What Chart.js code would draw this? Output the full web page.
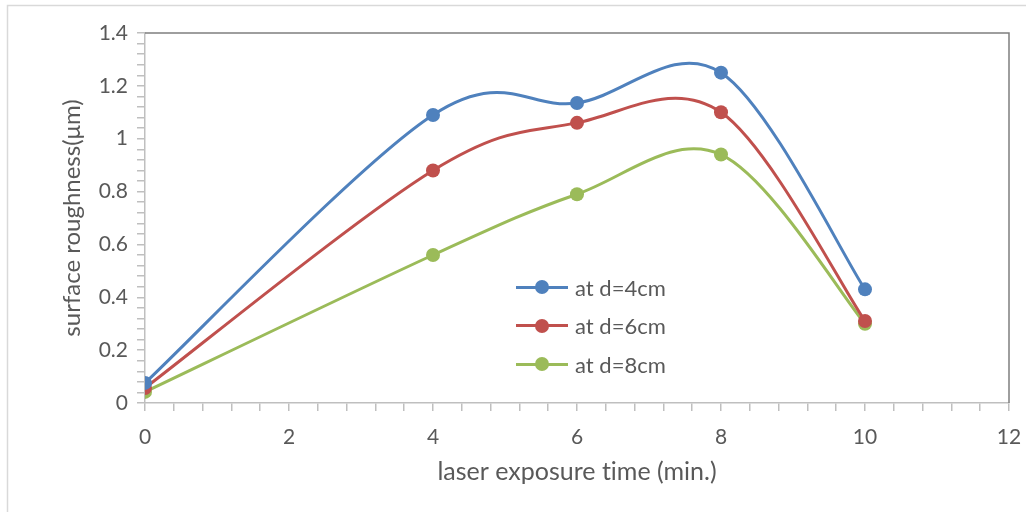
<!DOCTYPE html>
<html lang="en">
<head>
    <meta charset="UTF-8">
    <title>Surface roughness vs laser exposure time</title>
    <script src="https://cdn.jsdelivr.net/npm/chart.js"></script>
    <style>
        html, body { margin: 0; padding: 0; background: #fff; }
        #wrap { position: relative; width: 1026px; height: 512px; }
        #legend { position: absolute; left: 516px; top: 268px; font-family: Lato, sans-serif; font-size: 22px; color: #595959; font-variant-ligatures: none; }
        .item { height: 38.5px; display: flex; align-items: center; }
        .swatch { position: relative; width: 52px; height: 14px; margin-right: 7px; }
        .swatch .ln { position: absolute; left: 0; right: 0; top: 5.5px; height: 3px; }
        .swatch .dot { position: absolute; left: 19px; top: 0; width: 14px; height: 14px; border-radius: 50%; }
    </style>
</head>
<body>
<div id="wrap">
    <canvas id="chart" width="1026" height="512"></canvas>
    <div id="legend"></div>
</div>
<script>
    // data
    const times = [0, 4, 6, 8, 10];
    const rough4cm = [0.076, 1.09, 1.135, 1.25, 0.43];
    const rough6cm = [0.057, 0.88, 1.06, 1.10, 0.31];
    const rough8cm = [0.042, 0.56, 0.79, 0.94, 0.30];
    const seriesLabels = ['at d=4cm', 'at d=6cm', 'at d=8cm'];
    const seriesColors = ['#4F81BD', '#C0504D', '#9BBB59'];

    const allSeries = [rough4cm, rough6cm, rough8cm];
    const datasets = allSeries.map((vals, i) => ({
        label: seriesLabels[i],
        data: times.map((t, j) => ({x: t, y: vals[j]})),
        borderColor: seriesColors[i],
        backgroundColor: seriesColors[i],
        borderWidth: 3,
        pointRadius: 7,
        pointHoverRadius: 7,
        pointBorderWidth: 0,
        showLine: true,
        tension: 0.4
    }));

    const gray = '#595959';

    // excel-like smoothing: control points at 1/6 of the neighbour chord
    const excelSmooth = {
        id: 'excelSmooth',
        beforeDatasetDraw(chart, args) {
            const meta = args.meta;
            meta.dataset.updateControlPoints(chart.chartArea, 'x');
            const pts = meta.data;
            const n = pts.length;
            for (let i = 0; i < n; i++) {
                const p = pts[i];
                const prev = pts[Math.max(i - 1, 0)];
                const next = pts[Math.min(i + 1, n - 1)];
                const dx = (next.x - prev.x) / 6;
                const dy = (next.y - prev.y) / 6;
                p.cp1x = p.x - dx; p.cp1y = p.y - dy;
                p.cp2x = p.x + dx; p.cp2y = p.y + dy;
            }
        }
    };

    const frame = {
        id: 'frame',
        beforeDraw(chart) {
            const c = chart.ctx;
            c.save();
            c.strokeStyle = '#d9d9d9';
            c.lineWidth = 1.5;
            c.beginPath();
            c.moveTo(7.5, 520);
            c.lineTo(7.5, 5.5);
            c.lineTo(1030, 5.5);
            c.stroke();
            c.restore();
        },
        afterDraw(chart) {
            const a = chart.chartArea;
            const c = chart.ctx;
            c.save();
            c.strokeStyle = '#7f7f7f';
            c.lineWidth = 1.5;
            c.beginPath();
            c.moveTo(a.left, a.top);
            c.lineTo(a.right, a.top);
            c.lineTo(a.right, a.bottom);
            c.stroke();
            c.restore();
        }
    };

    function fmt(v) {
        return Number(v.toFixed(2)).toString();
    }

    new Chart(document.getElementById('chart'), {
        type: 'scatter',
        data: { datasets },
        plugins: [excelSmooth, frame],
        options: {
            responsive: false,
            animation: false,
            layout: { padding: { left: 0, right: 17, top: 33, bottom: 0 } },
            plugins: { legend: { display: false }, tooltip: { enabled: false } },
            scales: {
                x: {
                    type: 'linear',
                    min: 0, max: 12,
                    afterFit(s) { s.height = 109; s.paddingRight = 0; s.paddingLeft = 0; },
                    ticks: {
                        stepSize: 0.4,
                        autoSkip: false,
                        maxRotation: 0,
                        padding: 14,
                        color: gray,
                        font: { family: 'Lato', size: 21 },
                        callback: v => (Math.round(v * 10) % 20 === 0 ? fmt(v) : '')
                    },
                    grid: { drawOnChartArea: false, drawTicks: true, tickLength: 8, color: '#bfbfbf', lineWidth: 1.5 },
                    border: { color: '#bfbfbf', width: 1.5 },
                    title: {
                        display: true,
                        // zero-width non-joiner keeps Lato from forming the "ti" ligature
                        text: 'laser exposure t\u200Cime (min.)',
                        color: gray,
                        font: { family: 'Lato', size: 25 },
                        padding: { top: 0, bottom: 25 }
                    }
                },
                y: {
                    min: 0, max: 1.4,
                    afterFit(s) { s.width = 145; },
                    ticks: {
                        stepSize: 0.04,
                        maxTicksLimit: 100,
                        autoSkip: false,
                        padding: 9,
                        color: gray,
                        font: { family: 'Lato', size: 21 },
                        callback: v => (Math.round(v * 100) % 20 === 0 ? fmt(v) : '')
                    },
                    grid: { drawOnChartArea: false, drawTicks: true, tickLength: 8, color: '#bfbfbf', lineWidth: 1.5 },
                    border: { color: '#bfbfbf', width: 1.5 },
                    title: {
                        display: true,
                        text: 'surface roughness(μm)',
                        color: gray,
                        font: { family: 'Lato', size: 24 },
                        padding: { top: 58, bottom: 0 }
                    }
                }
            }
        }
    });

    const legendBox = document.getElementById('legend');
    seriesLabels.forEach((lab, i) => {
        const row = document.createElement('div');
        row.className = 'item';
        row.innerHTML = '<div class="swatch"><div class="ln" style="background:' + seriesColors[i] +
            '"></div><div class="dot" style="background:' + seriesColors[i] + '"></div></div><span>' + lab + '</span>';
        legendBox.appendChild(row);
    });
</script>
</body>
</html>
